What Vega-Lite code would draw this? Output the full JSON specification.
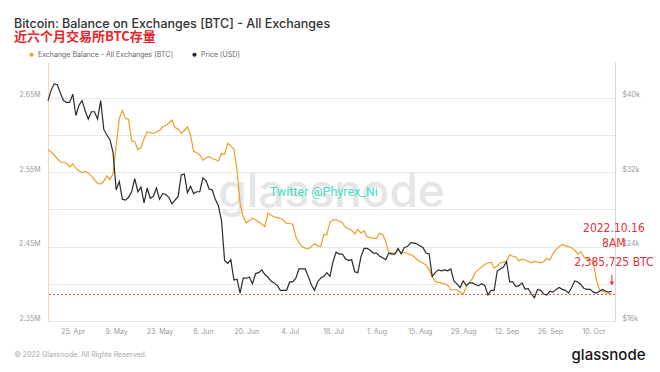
{
  "$schema": "https://vega.github.io/schema/vega-lite/v6.json",
  "width": 567,
  "height": 259,
  "autosize": "none",
  "padding": {"left": 48, "top": 62, "right": 45, "bottom": 51},
  "background": "white",
  "config": {"font": "Inter", "view": {"stroke": null}},
  "title": {
    "text": "Bitcoin: Balance on Exchanges [BTC] - All Exchanges",
    "subtitle": "近六个月交易所BTC存量",
    "anchor": "start",
    "frame": "group",
    "dx": -34,
    "offset": 7,
    "font": "Inter",
    "fontSize": 12.5,
    "fontWeight": 500,
    "color": "#333333",
    "subtitleFont": "Noto Sans CJK SC",
    "subtitleFontSize": 13,
    "subtitleFontWeight": "bold",
    "subtitleColor": "#e8262b",
    "subtitlePadding": 1
  },
  "datasets": {
    "balance": [
      {"date":"2022-04-17","value":2580000},{"date":"2022-04-18","value":2577000},{"date":"2022-04-19","value":2573000},{"date":"2022-04-20","value":2568000},{"date":"2022-04-21","value":2564000},{"date":"2022-04-22","value":2563000},{"date":"2022-04-23","value":2562000},{"date":"2022-04-24","value":2557000},{"date":"2022-04-25","value":2561000},{"date":"2022-04-26","value":2555000},{"date":"2022-04-27","value":2552000},{"date":"2022-04-28","value":2549000},{"date":"2022-04-29","value":2551000},{"date":"2022-04-30","value":2549000},
      {"date":"2022-05-01","value":2545000},{"date":"2022-05-02","value":2540000},{"date":"2022-05-03","value":2535000},{"date":"2022-05-04","value":2534000},{"date":"2022-05-05","value":2538000},{"date":"2022-05-06","value":2545000},{"date":"2022-05-07","value":2540000},{"date":"2022-05-08","value":2548000},{"date":"2022-05-09","value":2585000},{"date":"2022-05-10","value":2622000},{"date":"2022-05-11","value":2633000},{"date":"2022-05-12","value":2622000},{"date":"2022-05-13","value":2621000},{"date":"2022-05-14","value":2592000},{"date":"2022-05-15","value":2591000},{"date":"2022-05-16","value":2580000},{"date":"2022-05-17","value":2583000},{"date":"2022-05-18","value":2595000},{"date":"2022-05-19","value":2604000},{"date":"2022-05-20","value":2603000},{"date":"2022-05-21","value":2602000},{"date":"2022-05-22","value":2604000},{"date":"2022-05-23","value":2606000},{"date":"2022-05-24","value":2611000},{"date":"2022-05-25","value":2613000},{"date":"2022-05-26","value":2616000},{"date":"2022-05-27","value":2620000},{"date":"2022-05-28","value":2610000},{"date":"2022-05-29","value":2608000},{"date":"2022-05-30","value":2602000},{"date":"2022-05-31","value":2606000},
      {"date":"2022-06-01","value":2611000},{"date":"2022-06-02","value":2600000},{"date":"2022-06-03","value":2578000},{"date":"2022-06-04","value":2576000},{"date":"2022-06-05","value":2573000},{"date":"2022-06-06","value":2566000},{"date":"2022-06-07","value":2569000},{"date":"2022-06-08","value":2571000},{"date":"2022-06-09","value":2568000},{"date":"2022-06-10","value":2567000},{"date":"2022-06-11","value":2565000},{"date":"2022-06-12","value":2575000},{"date":"2022-06-13","value":2574000},{"date":"2022-06-14","value":2589000},{"date":"2022-06-15","value":2585000},{"date":"2022-06-16","value":2581000},{"date":"2022-06-17","value":2553000},{"date":"2022-06-18","value":2508000},{"date":"2022-06-19","value":2490000},{"date":"2022-06-20","value":2482000},{"date":"2022-06-21","value":2485000},{"date":"2022-06-22","value":2488000},{"date":"2022-06-23","value":2486000},{"date":"2022-06-24","value":2483000},{"date":"2022-06-25","value":2480000},{"date":"2022-06-26","value":2477000},{"date":"2022-06-27","value":2495000},{"date":"2022-06-28","value":2492000},{"date":"2022-06-29","value":2490000},{"date":"2022-06-30","value":2489000},
      {"date":"2022-07-01","value":2488000},{"date":"2022-07-02","value":2485000},{"date":"2022-07-03","value":2481000},{"date":"2022-07-04","value":2481000},{"date":"2022-07-05","value":2480000},{"date":"2022-07-06","value":2463000},{"date":"2022-07-07","value":2455000},{"date":"2022-07-08","value":2450000},{"date":"2022-07-09","value":2448000},{"date":"2022-07-10","value":2447000},{"date":"2022-07-11","value":2450000},{"date":"2022-07-12","value":2454000},{"date":"2022-07-13","value":2451000},{"date":"2022-07-14","value":2450000},{"date":"2022-07-15","value":2466000},{"date":"2022-07-16","value":2466000},{"date":"2022-07-17","value":2483000},{"date":"2022-07-18","value":2486000},{"date":"2022-07-19","value":2486000},{"date":"2022-07-20","value":2484000},{"date":"2022-07-21","value":2482000},{"date":"2022-07-22","value":2476000},{"date":"2022-07-23","value":2474000},{"date":"2022-07-24","value":2472000},{"date":"2022-07-25","value":2467000},{"date":"2022-07-26","value":2473000},{"date":"2022-07-27","value":2468000},{"date":"2022-07-28","value":2471000},{"date":"2022-07-29","value":2463000},{"date":"2022-07-30","value":2462000},{"date":"2022-07-31","value":2461000},
      {"date":"2022-08-01","value":2461000},{"date":"2022-08-02","value":2468000},{"date":"2022-08-03","value":2466000},{"date":"2022-08-04","value":2457000},{"date":"2022-08-05","value":2441000},{"date":"2022-08-06","value":2442000},{"date":"2022-08-07","value":2441000},{"date":"2022-08-08","value":2446000},{"date":"2022-08-09","value":2442000},{"date":"2022-08-10","value":2442000},{"date":"2022-08-11","value":2441000},{"date":"2022-08-12","value":2439000},{"date":"2022-08-13","value":2437000},{"date":"2022-08-14","value":2433000},{"date":"2022-08-15","value":2430000},{"date":"2022-08-16","value":2428000},{"date":"2022-08-17","value":2425000},{"date":"2022-08-18","value":2419000},{"date":"2022-08-19","value":2410000},{"date":"2022-08-20","value":2403000},{"date":"2022-08-21","value":2402000},{"date":"2022-08-22","value":2401000},{"date":"2022-08-23","value":2400000},{"date":"2022-08-24","value":2398000},{"date":"2022-08-25","value":2392000},{"date":"2022-08-26","value":2392000},{"date":"2022-08-27","value":2392000},{"date":"2022-08-28","value":2389000},{"date":"2022-08-29","value":2386000},{"date":"2022-08-30","value":2396000},{"date":"2022-08-31","value":2402000},
      {"date":"2022-09-01","value":2407000},{"date":"2022-09-02","value":2416000},{"date":"2022-09-03","value":2419000},{"date":"2022-09-04","value":2423000},{"date":"2022-09-05","value":2426000},{"date":"2022-09-06","value":2428000},{"date":"2022-09-07","value":2429000},{"date":"2022-09-08","value":2421000},{"date":"2022-09-09","value":2424000},{"date":"2022-09-10","value":2428000},{"date":"2022-09-11","value":2429000},{"date":"2022-09-12","value":2430000},{"date":"2022-09-13","value":2439000},{"date":"2022-09-14","value":2437000},{"date":"2022-09-15","value":2436000},{"date":"2022-09-16","value":2431000},{"date":"2022-09-17","value":2433000},{"date":"2022-09-18","value":2432000},{"date":"2022-09-19","value":2430000},{"date":"2022-09-20","value":2428000},{"date":"2022-09-21","value":2430000},{"date":"2022-09-22","value":2429000},{"date":"2022-09-23","value":2428000},{"date":"2022-09-24","value":2430000},{"date":"2022-09-25","value":2434000},{"date":"2022-09-26","value":2432000},{"date":"2022-09-27","value":2441000},{"date":"2022-09-28","value":2446000},{"date":"2022-09-29","value":2450000},{"date":"2022-09-30","value":2453000},
      {"date":"2022-10-01","value":2451000},{"date":"2022-10-02","value":2450000},{"date":"2022-10-03","value":2448000},{"date":"2022-10-04","value":2445000},{"date":"2022-10-05","value":2440000},{"date":"2022-10-06","value":2443000},{"date":"2022-10-07","value":2436000},{"date":"2022-10-08","value":2433000},{"date":"2022-10-09","value":2432000},{"date":"2022-10-10","value":2430000},{"date":"2022-10-11","value":2405000},{"date":"2022-10-12","value":2392000},{"date":"2022-10-13","value":2390000},{"date":"2022-10-14","value":2388000},{"date":"2022-10-15","value":2387000},{"date":"2022-10-16","value":2385725}
    ],
    "price": [
      {"date":"2022-04-17","value":39700},{"date":"2022-04-18","value":40800},{"date":"2022-04-19","value":41500},{"date":"2022-04-20","value":41400},{"date":"2022-04-21","value":40500},{"date":"2022-04-22","value":39700},{"date":"2022-04-23","value":39500},{"date":"2022-04-24","value":39500},{"date":"2022-04-25","value":40400},{"date":"2022-04-26","value":38100},{"date":"2022-04-27","value":39200},{"date":"2022-04-28","value":39700},{"date":"2022-04-29","value":38600},{"date":"2022-04-30","value":37700},
      {"date":"2022-05-01","value":38500},{"date":"2022-05-02","value":38500},{"date":"2022-05-03","value":37700},{"date":"2022-05-04","value":39700},{"date":"2022-05-05","value":36600},{"date":"2022-05-06","value":36000},{"date":"2022-05-07","value":35500},{"date":"2022-05-08","value":34100},{"date":"2022-05-09","value":30100},{"date":"2022-05-10","value":31000},{"date":"2022-05-11","value":29100},{"date":"2022-05-12","value":29000},{"date":"2022-05-13","value":29300},{"date":"2022-05-14","value":29900},{"date":"2022-05-15","value":31300},{"date":"2022-05-16","value":29900},{"date":"2022-05-17","value":30400},{"date":"2022-05-18","value":28700},{"date":"2022-05-19","value":30300},{"date":"2022-05-20","value":29200},{"date":"2022-05-21","value":29400},{"date":"2022-05-22","value":30300},{"date":"2022-05-23","value":29100},{"date":"2022-05-24","value":29700},{"date":"2022-05-25","value":29600},{"date":"2022-05-26","value":29300},{"date":"2022-05-27","value":28600},{"date":"2022-05-28","value":29000},{"date":"2022-05-29","value":29400},{"date":"2022-05-30","value":31700},{"date":"2022-05-31","value":31800},
      {"date":"2022-06-01","value":29800},{"date":"2022-06-02","value":30500},{"date":"2022-06-03","value":29700},{"date":"2022-06-04","value":29900},{"date":"2022-06-05","value":29900},{"date":"2022-06-06","value":31400},{"date":"2022-06-07","value":31100},{"date":"2022-06-08","value":30200},{"date":"2022-06-09","value":30100},{"date":"2022-06-10","value":29100},{"date":"2022-06-11","value":28400},{"date":"2022-06-12","value":26800},{"date":"2022-06-13","value":22500},{"date":"2022-06-14","value":22200},{"date":"2022-06-15","value":22600},{"date":"2022-06-16","value":20400},{"date":"2022-06-17","value":20500},{"date":"2022-06-18","value":19000},{"date":"2022-06-19","value":20600},{"date":"2022-06-20","value":20600},{"date":"2022-06-21","value":20700},{"date":"2022-06-22","value":20000},{"date":"2022-06-23","value":21100},{"date":"2022-06-24","value":21200},{"date":"2022-06-25","value":21500},{"date":"2022-06-26","value":21000},{"date":"2022-06-27","value":20700},{"date":"2022-06-28","value":20300},{"date":"2022-06-29","value":20100},{"date":"2022-06-30","value":19800},
      {"date":"2022-07-01","value":19300},{"date":"2022-07-02","value":19300},{"date":"2022-07-03","value":19300},{"date":"2022-07-04","value":20200},{"date":"2022-07-05","value":20200},{"date":"2022-07-06","value":20600},{"date":"2022-07-07","value":21600},{"date":"2022-07-08","value":21600},{"date":"2022-07-09","value":21600},{"date":"2022-07-10","value":20800},{"date":"2022-07-11","value":19900},{"date":"2022-07-12","value":19300},{"date":"2022-07-13","value":20200},{"date":"2022-07-14","value":20600},{"date":"2022-07-15","value":20800},{"date":"2022-07-16","value":21200},{"date":"2022-07-17","value":20800},{"date":"2022-07-18","value":22400},{"date":"2022-07-19","value":23400},{"date":"2022-07-20","value":23200},{"date":"2022-07-21","value":23200},{"date":"2022-07-22","value":22700},{"date":"2022-07-23","value":22500},{"date":"2022-07-24","value":22600},{"date":"2022-07-25","value":21300},{"date":"2022-07-26","value":21200},{"date":"2022-07-27","value":22900},{"date":"2022-07-28","value":23800},{"date":"2022-07-29","value":23800},{"date":"2022-07-30","value":23600},{"date":"2022-07-31","value":23300},
      {"date":"2022-08-01","value":23300},{"date":"2022-08-02","value":23000},{"date":"2022-08-03","value":22800},{"date":"2022-08-04","value":22600},{"date":"2022-08-05","value":23300},{"date":"2022-08-06","value":23200},{"date":"2022-08-07","value":23200},{"date":"2022-08-08","value":23800},{"date":"2022-08-09","value":23200},{"date":"2022-08-10","value":23900},{"date":"2022-08-11","value":24000},{"date":"2022-08-12","value":24400},{"date":"2022-08-13","value":24400},{"date":"2022-08-14","value":24300},{"date":"2022-08-15","value":24100},{"date":"2022-08-16","value":23900},{"date":"2022-08-17","value":23300},{"date":"2022-08-18","value":23200},{"date":"2022-08-19","value":20800},{"date":"2022-08-20","value":21200},{"date":"2022-08-21","value":21500},{"date":"2022-08-22","value":21400},{"date":"2022-08-23","value":21500},{"date":"2022-08-24","value":21400},{"date":"2022-08-25","value":21600},{"date":"2022-08-26","value":20300},{"date":"2022-08-27","value":20000},{"date":"2022-08-28","value":19600},{"date":"2022-08-29","value":20300},{"date":"2022-08-30","value":19800},{"date":"2022-08-31","value":20100},
      {"date":"2022-09-01","value":20100},{"date":"2022-09-02","value":19900},{"date":"2022-09-03","value":19800},{"date":"2022-09-04","value":20000},{"date":"2022-09-05","value":19800},{"date":"2022-09-06","value":18800},{"date":"2022-09-07","value":19300},{"date":"2022-09-08","value":19300},{"date":"2022-09-09","value":21400},{"date":"2022-09-10","value":21600},{"date":"2022-09-11","value":21800},{"date":"2022-09-12","value":22400},{"date":"2022-09-13","value":20200},{"date":"2022-09-14","value":20200},{"date":"2022-09-15","value":19700},{"date":"2022-09-16","value":19800},{"date":"2022-09-17","value":20100},{"date":"2022-09-18","value":19400},{"date":"2022-09-19","value":19500},{"date":"2022-09-20","value":18900},{"date":"2022-09-21","value":18500},{"date":"2022-09-22","value":19400},{"date":"2022-09-23","value":19300},{"date":"2022-09-24","value":18900},{"date":"2022-09-25","value":18800},{"date":"2022-09-26","value":19200},{"date":"2022-09-27","value":19100},{"date":"2022-09-28","value":19400},{"date":"2022-09-29","value":19600},{"date":"2022-09-30","value":19400},
      {"date":"2022-10-01","value":19300},{"date":"2022-10-02","value":19000},{"date":"2022-10-03","value":19600},{"date":"2022-10-04","value":20300},{"date":"2022-10-05","value":20200},{"date":"2022-10-06","value":19900},{"date":"2022-10-07","value":19500},{"date":"2022-10-08","value":19400},{"date":"2022-10-09","value":19400},{"date":"2022-10-10","value":19100},{"date":"2022-10-11","value":19000},{"date":"2022-10-12","value":19200},{"date":"2022-10-13","value":19400},{"date":"2022-10-14","value":19200},{"date":"2022-10-15","value":19100},{"date":"2022-10-16","value":19200}
    ],
    "notes": [
      {"date":"2022-10-16","value":2475000,"label":"2022.10.16"},
      {"date":"2022-10-16","value":2454400,"label":"8AM"},
      {"date":"2022-10-16","value":2429700,"label":"2,385,725 BTC"}
    ],
    "arrow": [
      {"date":"2022-10-16","value":2412000,"end":2402500}
    ],
    "arrowhead": [
      {"date":"2022-10-16","value":2400400}
    ],
    "watermark": [
      {"date":"2022-07-17T12:00:00Z","value":2503000,"label":"glassnode"}
    ],
    "credit": [
      {"date":"2022-07-15T00:00:00Z","value":2524000,"label":"Twitter @Phyrex_Ni"}
    ],
    "level": [
      {"value":2385725}
    ]
  },
  "layer": [
    {
      "layer": [
        {
          "data": {"name": "balance"},
          "mark": {"type": "line", "strokeWidth": 0, "opacity": 0},
          "encoding": {
            "x": {
              "field": "date", "type": "temporal",
              "scale": {"type": "utc", "domain": [{"year": 2022, "month": 4, "date": 17, "utc": true}, {"year": 2022, "month": 10, "date": 17, "utc": true}]},
              "axis": {
                "title": "© 2022 Glassnode. All Rights Reserved.",
                "titleX": -34, "titleY": 33, "titleAlign": "left", "titleAnchor": null, "titleBaseline": "middle",
                "titleFont": "Inter", "titleFontSize": 7, "titleFontWeight": "normal", "titleColor": "#a8a8a8",
                "values": [
                  {"year": 2022, "month": 4, "date": 25, "utc": true},
                  {"year": 2022, "month": 5, "date": 9, "utc": true},
                  {"year": 2022, "month": 5, "date": 23, "utc": true},
                  {"year": 2022, "month": 6, "date": 6, "utc": true},
                  {"year": 2022, "month": 6, "date": 20, "utc": true},
                  {"year": 2022, "month": 7, "date": 4, "utc": true},
                  {"year": 2022, "month": 7, "date": 18, "utc": true},
                  {"year": 2022, "month": 8, "date": 1, "utc": true},
                  {"year": 2022, "month": 8, "date": 15, "utc": true},
                  {"year": 2022, "month": 8, "date": 29, "utc": true},
                  {"year": 2022, "month": 9, "date": 12, "utc": true},
                  {"year": 2022, "month": 9, "date": 26, "utc": true},
                  {"year": 2022, "month": 10, "date": 10, "utc": true}
                ],
                "format": "%-d. %b",
                "labelFont": "Inter", "labelFontSize": 7, "labelColor": "#9a9a9a", "labelPadding": 6,
                "domain": false, "ticks": false, "grid": false
              }
            },
            "y": {
              "field": "value", "type": "quantitative",
              "scale": {"domain": [2350000, 2698000], "nice": false, "zero": false},
              "axis": {
                "title": null,
                "values": [2350000, 2400000, 2450000, 2500000, 2550000, 2600000, 2650000],
                "labelExpr": "datum.value % 100000 == 50000 ? format(datum.value / 1000000, '.2f') + 'M' : ''",
                "labelFont": "Inter", "labelFontSize": 7, "labelColor": "#9a9a9a", "labelPadding": 8, "labelOffset": -3,
                "ticks": false, "domain": true, "domainColor": "#fbd6b0", "domainWidth": 1,
                "grid": true, "gridColor": "#e9e9e9", "gridWidth": 1
              }
            }
          }
        },
        {
          "data": {"name": "watermark"},
          "mark": {"type": "text", "font": "Inter", "fontSize": 46, "fontWeight": 500, "color": "#e6e6e6", "align": "center", "baseline": "alphabetic"},
          "encoding": {
            "x": {"field": "date", "type": "temporal"},
            "y": {"field": "value", "type": "quantitative"},
            "text": {"field": "label"}
          }
        },
        {
          "data": {"name": "credit"},
          "mark": {"type": "text", "font": "Roboto", "fontSize": 12.5, "color": "#3fe0c5", "align": "center", "baseline": "middle"},
          "encoding": {
            "x": {"field": "date", "type": "temporal"},
            "y": {"field": "value", "type": "quantitative"},
            "text": {"field": "label"}
          }
        },
        {
          "data": {"name": "level"},
          "mark": {"type": "rule", "color": "#ec4b5d", "strokeWidth": 1, "strokeDash": [2, 2]},
          "encoding": {
            "y": {"field": "value", "type": "quantitative"}
          }
        },
        {
          "data": {"name": "balance"},
          "mark": {"type": "line", "strokeWidth": 1.2, "interpolate": "linear"},
          "encoding": {
            "x": {"field": "date", "type": "temporal"},
            "y": {"field": "value", "type": "quantitative"},
            "color": {
              "datum": "Exchange Balance - All Exchanges [BTC]",
              "type": "nominal",
              "scale": {"domain": ["Exchange Balance - All Exchanges [BTC]", "Price [USD]"], "range": ["#f39c26", "#2b2b2b"]},
              "legend": {
                "title": null, "orient": "none", "legendX": -20, "legendY": -11, "direction": "horizontal",
                "symbolType": "circle", "symbolSize": 18, "labelFont": "Inter", "labelFontSize": 7, "labelColor": "#666666",
                "labelOffset": 3, "columnPadding": 18,
                "encode": {"symbols": {"update": {"fill": {"scale": "color", "field": "value"}, "strokeWidth": {"value": 0}}}}
              }
            }
          }
        },
        {
          "data": {"name": "arrow"},
          "mark": {"type": "rule", "color": "#e8303a", "strokeWidth": 1},
          "encoding": {
            "x": {"field": "date", "type": "temporal"},
            "y": {"field": "value", "type": "quantitative"},
            "y2": {"field": "end"}
          }
        },
        {
          "data": {"name": "arrowhead"},
          "mark": {"type": "point", "shape": "triangle-down", "filled": true, "color": "#e8303a", "size": 22, "opacity": 1},
          "encoding": {
            "x": {"field": "date", "type": "temporal"},
            "y": {"field": "value", "type": "quantitative"}
          }
        },
        {
          "data": {"name": "notes"},
          "mark": {"type": "text", "font": "DejaVu Sans Condensed, Roboto Condensed, Liberation Sans Narrow, Roboto", "fontSize": 12, "color": "#e8303a", "align": "center", "baseline": "middle", "dx": 2},
          "encoding": {
            "x": {"field": "date", "type": "temporal"},
            "y": {"field": "value", "type": "quantitative"},
            "text": {"field": "label"}
          }
        }
      ]
    },
    {
      "data": {"name": "price"},
      "mark": {"type": "line", "strokeWidth": 1.2},
      "encoding": {
        "x": {"field": "date", "type": "temporal"},
        "y": {
          "field": "value", "type": "quantitative",
          "scale": {"domain": [16000, 43850], "nice": false, "zero": false},
          "axis": {
            "orient": "right",
            "title": "glassnode",
            "titleAngle": 0, "titleX": 30, "titleY": 292, "titleAlign": "right", "titleAnchor": null, "titleBaseline": "middle",
            "titleFont": "Inter", "titleFontSize": 15, "titleFontWeight": 500, "titleColor": "#151515",
            "values": [16000, 24000, 32000, 40000],
            "labelExpr": "'$' + (datum.value / 1000) + 'k'",
            "labelFont": "Inter", "labelFontSize": 7, "labelColor": "#9a9a9a", "labelPadding": 7, "labelOffset": -3,
            "ticks": false, "domain": true, "domainColor": "#d6d6d6", "grid": false
          }
        },
        "color": {"datum": "Price [USD]", "type": "nominal"}
      }
    }
  ],
  "resolve": {"scale": {"y": "independent"}}
}
